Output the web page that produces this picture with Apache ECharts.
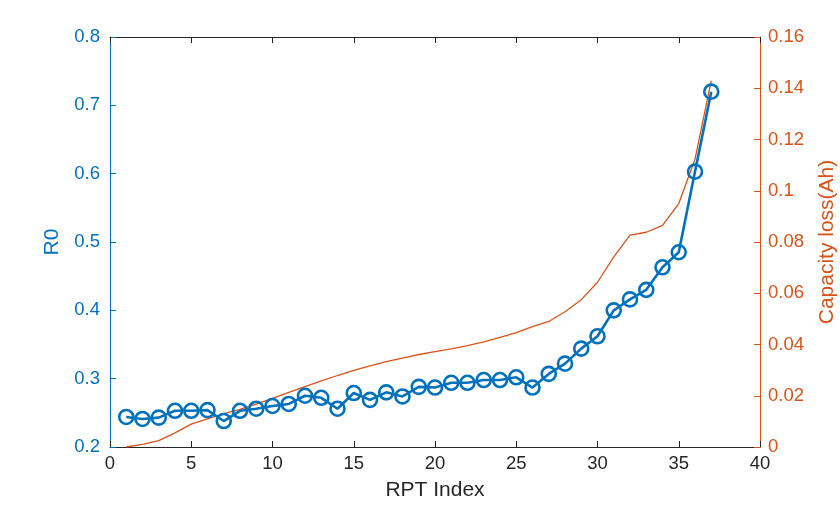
<!DOCTYPE html>
<html>
<head>
<meta charset="utf-8">
<script src="https://cdn.jsdelivr.net/npm/echarts@6/dist/echarts.min.js"></script>
<style>
html,body{margin:0;padding:0;background:#fff;}
#main{width:840px;height:505px;}
</style>
</head>
<body>
<div id="main"></div>
<script>
// RPT index (x)
var rptIndex = [1,2,3,4,5,6,7,8,9,10,11,12,13,14,15,16,17,18,19,20,21,22,23,24,25,26,27,28,29,30,31,32,33,34,35,36,37];
// R0 (left axis)
var r0 = [0.244,0.241,0.243,0.253,0.253,0.254,0.238,0.253,0.256,0.260,0.263,0.275,0.272,0.256,0.279,0.269,0.280,0.274,0.288,0.287,
          0.294,0.294,0.298,0.298,0.302,0.287,0.307,0.322,0.344,0.362,0.400,0.416,0.430,0.463,0.485,0.603,0.720];
// capacity loss (right axis)
var capLoss = [0.0,0.001,0.0025,0.0055,0.0089,0.011,0.013,0.0147,0.0167,0.019,0.0213,0.0236,0.0258,0.0279,0.0299,0.0317,0.0333,0.0347,0.0361,0.0372,
               0.0383,0.0396,0.041,0.0428,0.0446,0.047,0.049,0.0528,0.0575,0.0643,0.0742,0.0827,0.0838,0.0865,0.095,0.1123,0.143];

var blue = '#0072BD', orange = '#D95319', dark = '#262626';
var font = 'Liberation Sans, Arial, sans-serif';

var chart = echarts.init(document.getElementById('main'));

function pairs(ys){
	return rptIndex.map(function(x, i){ return [x, ys[i]]; });
}

chart.setOption({
	animation: false,
	textStyle: {fontFamily: font},
	grid: {left: 110, right: 80, top: 37, bottom: 58, containLabel: false, outerBoundsMode: 'none'},
	xAxis: [{
		type: 'value', min: 0, max: 40, interval: 5,
		name: 'RPT Index', nameLocation: 'middle', nameGap: 33,
		nameTextStyle: {color: dark, fontSize: 21, fontFamily: font},
		axisLine: {onZero: false, lineStyle: {color: dark, width: 1}},
		axisTick: {inside: true, length: 6, lineStyle: {color: dark}},
		axisLabel: {color: dark, fontSize: 18.5, margin: 7, fontFamily: font},
		splitLine: {show: false}
	}, {
		type: 'value', min: 0, max: 40, interval: 5, position: 'top',
		axisLine: {onZero: false, lineStyle: {color: dark, width: 1}},
		axisTick: {inside: true, length: 6, lineStyle: {color: dark}},
		axisLabel: {show: false},
		splitLine: {show: false}
	}],
	yAxis: [{
		type: 'value', min: 0.2, max: 0.8, interval: 0.1, position: 'left',
		name: 'R0', nameLocation: 'middle', nameGap: 47,
		nameTextStyle: {color: blue, fontSize: 21, fontFamily: font},
		axisLine: {show: true, onZero: false, lineStyle: {color: blue, width: 1}},
		axisTick: {show: true, inside: true, length: 6, lineStyle: {color: blue}},
		axisLabel: {color: blue, fontSize: 18.5, margin: 10, fontFamily: font},
		splitLine: {show: false}
	}, {
		type: 'value', min: 0, max: 0.16, interval: 0.02, position: 'right',
		name: 'Capacity loss(Ah)', nameLocation: 'middle', nameGap: 57,
		nameTextStyle: {color: orange, fontSize: 21, fontFamily: font},
		axisLine: {show: true, onZero: false, lineStyle: {color: orange, width: 1}},
		axisTick: {show: true, inside: true, length: 6, lineStyle: {color: orange}},
		axisLabel: {color: orange, fontSize: 18.5, margin: 8, fontFamily: font},
		splitLine: {show: false}
	}],
	series: [{
		name: 'Capacity loss', type: 'line', xAxisIndex: 0, yAxisIndex: 1,
		data: pairs(capLoss), showSymbol: false, symbol: 'none',
		lineStyle: {color: orange, width: 1.3}
	}, {
		name: 'R0', type: 'line', xAxisIndex: 0, yAxisIndex: 0,
		data: pairs(r0), symbol: 'circle', symbolSize: 14,
		lineStyle: {color: blue, width: 2.6},
		itemStyle: {color: 'rgba(0,0,0,0)', borderColor: blue, borderWidth: 2.6}
	}]
});
</script>
</body>
</html>
